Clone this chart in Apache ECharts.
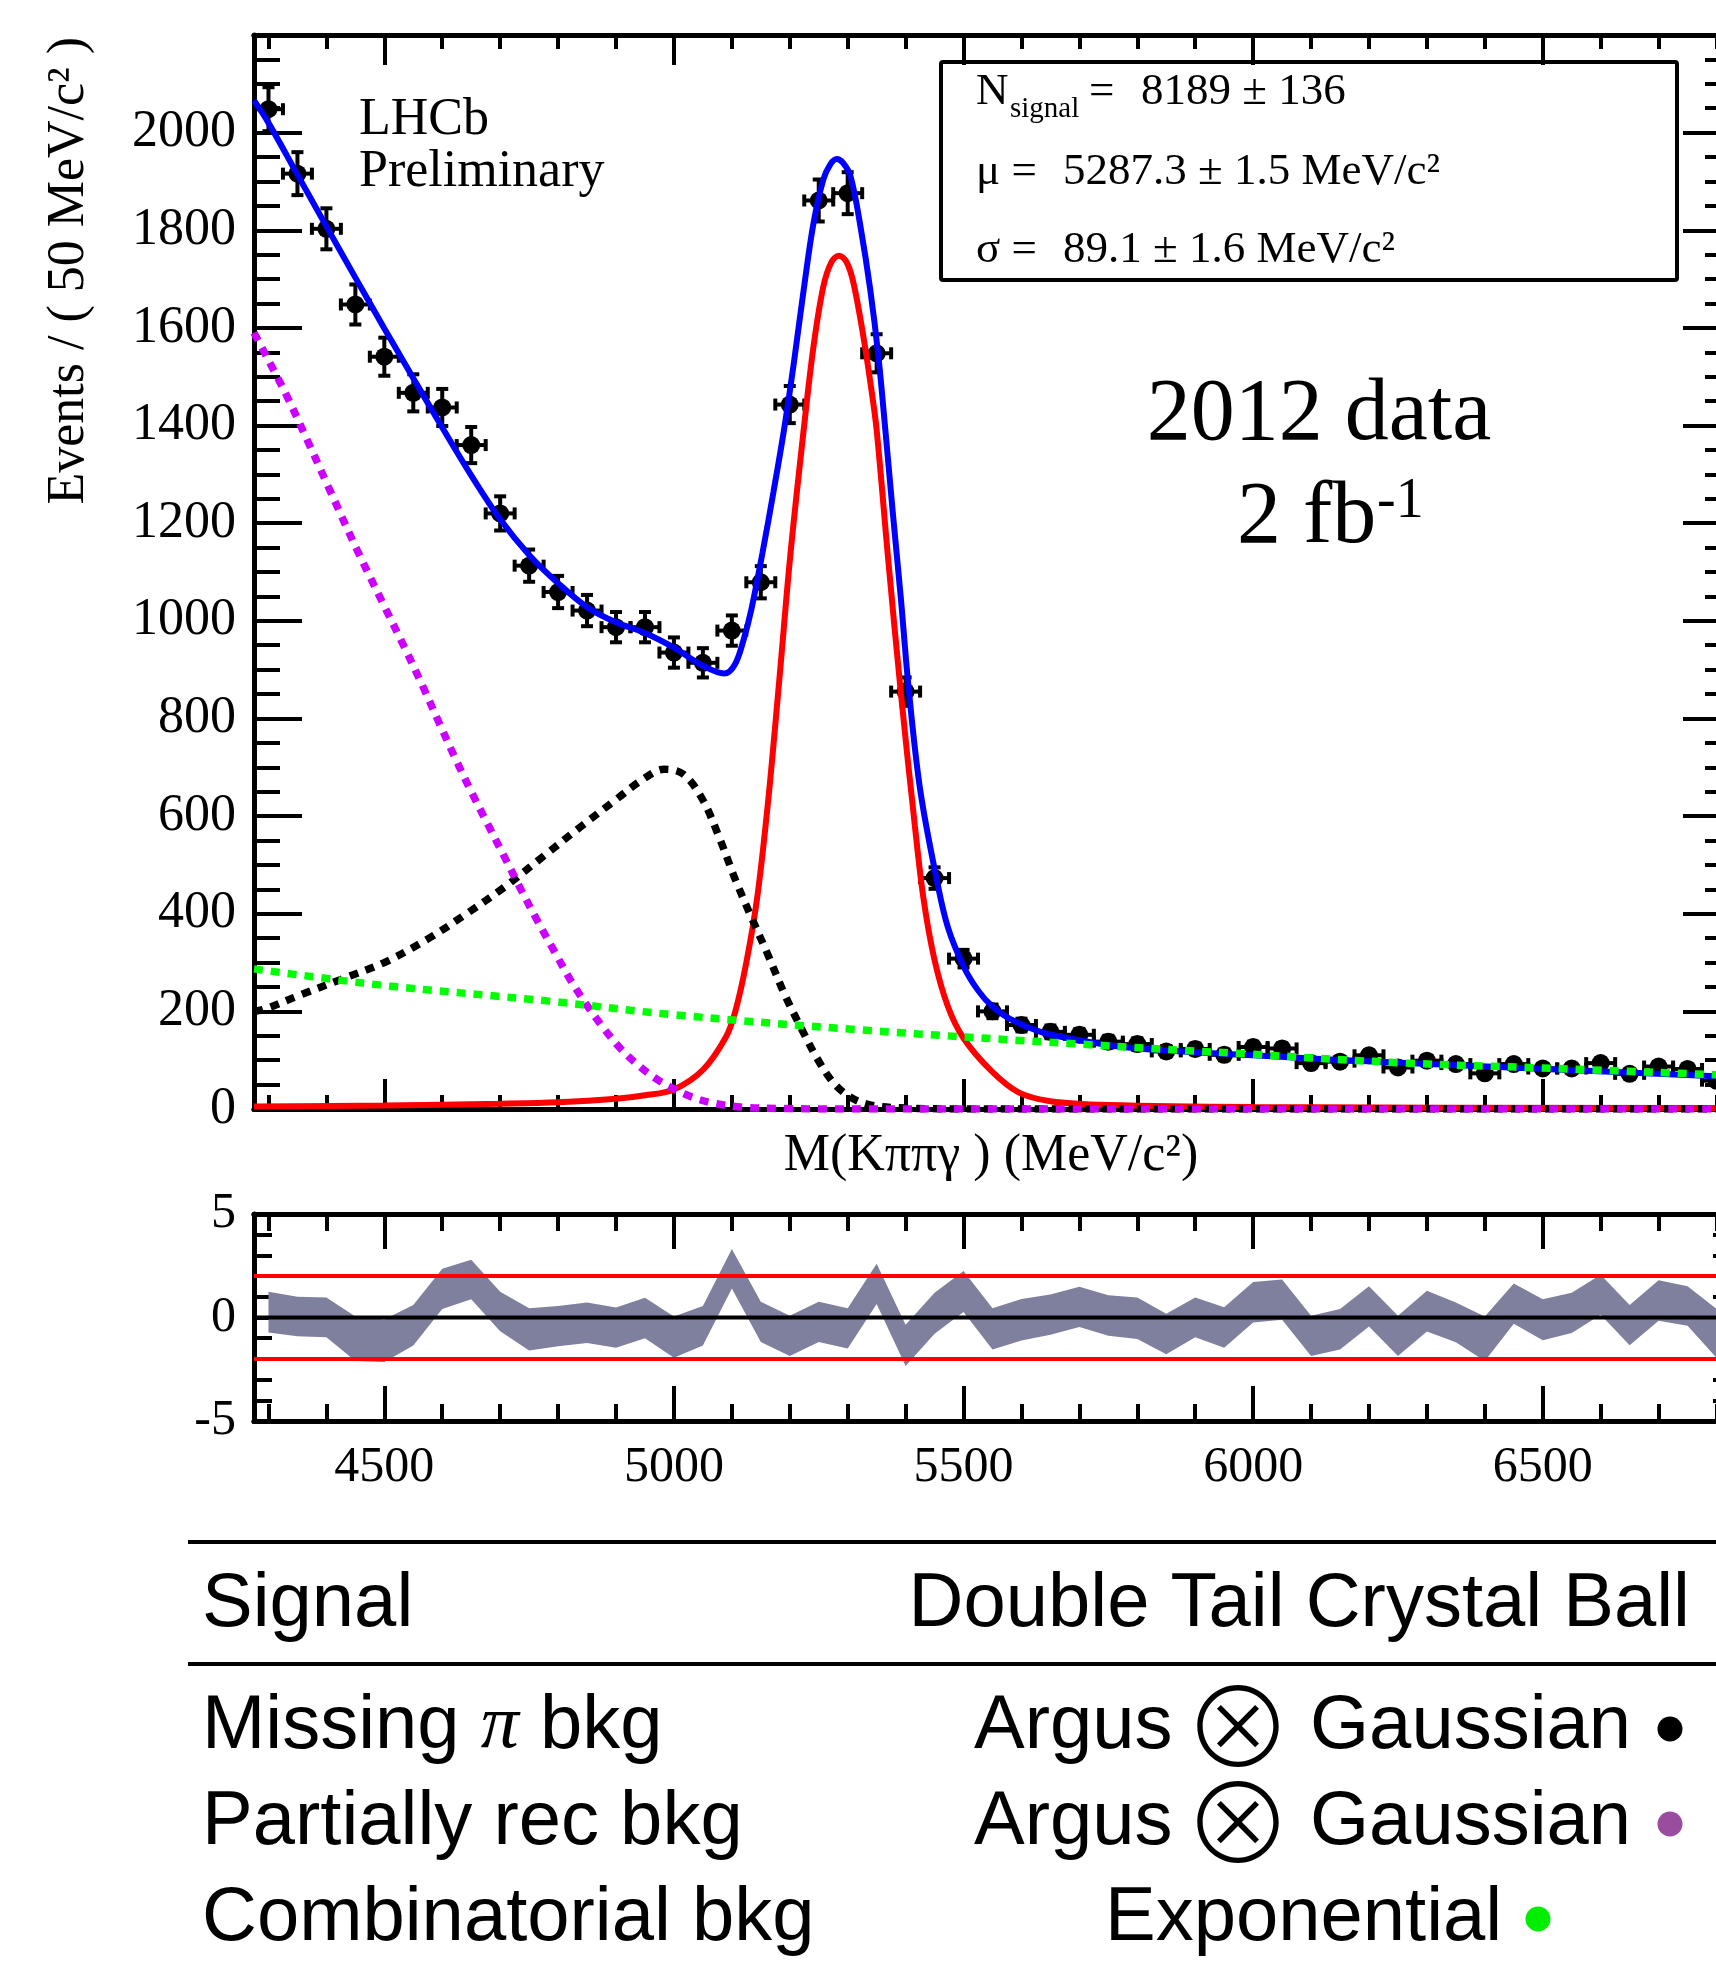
<!DOCTYPE html>
<html>
<head>
<meta charset="utf-8">
<script src="https://cdn.jsdelivr.net/npm/echarts@6.0.0/dist/echarts.min.js"></script>
<style>
  html, body { margin: 0; padding: 0; background: #fff; }
  #chart { width: 1716px; height: 1962px; }
</style>
</head>
<body>
<div id="chart"></div>
<script>
// mass range of the fit (MeV/c^2), 50 MeV bins
const X_MIN = 4275
const X_MAX = 6825
const binHalfWidth = 25

const binCenters = [
  4300, 4350, 4400, 4450, 4500, 4550, 4600, 4650, 4700, 4750,
  4800, 4850, 4900, 4950, 5000, 5050, 5100, 5150, 5200, 5250,
  5300, 5350, 5400, 5450, 5500, 5550, 5600, 5650, 5700, 5750,
  5800, 5850, 5900, 5950, 6000, 6050, 6100, 6150, 6200, 6250,
  6300, 6350, 6400, 6450, 6500, 6550, 6600, 6650, 6700, 6750, 6800
]
const eventCounts = [
  2048, 1916, 1803, 1648, 1541, 1467, 1437, 1360, 1220, 1113,
  1059, 1021, 987, 987, 935, 914, 980, 1079, 1443, 1861,
  1876, 1548, 855, 473, 308, 200, 172, 158, 152, 138,
  133, 118, 123, 111, 127, 124, 94, 97, 110, 85,
  99, 92, 73, 92, 83, 83, 94, 72, 87, 82, 58
]
const eventErrors = [
  45, 44, 42, 41, 39, 38, 38, 37, 35, 33,
  33, 32, 31, 31, 31, 30, 31, 33, 38, 43,
  43, 39, 29, 22, 18, 14, 13, 13, 12, 12,
  12, 11, 11, 11, 11, 11, 10, 10, 10, 9,
  10, 10, 9, 10, 9, 9, 10, 8, 9, 9, 8
]

// fit components, [mass, events]
const totalFit = [
  [4275, 2066], [4300, 2020], [4350, 1914], [4400, 1808], [4450, 1703], [4500, 1599],
  [4550, 1497], [4600, 1396], [4650, 1298], [4700, 1208], [4750, 1135], [4800, 1077],
  [4850, 1028], [4900, 997], [4950, 975], [5000, 945], [5050, 908], [5087, 892],
  [5105, 910], [5120, 960], [5134, 1025], [5153, 1140], [5172, 1265], [5190, 1391],
  [5207, 1528], [5224, 1678], [5241, 1815], [5258, 1904], [5270, 1935], [5281, 1946],
  [5292, 1938], [5305, 1910], [5322, 1808], [5339, 1678], [5353, 1542], [5365, 1391],
  [5378, 1220], [5392, 1043], [5405, 865], [5425, 655], [5454, 468], [5473, 372],
  [5501, 290], [5525, 243], [5548, 212], [5581, 184], [5633, 158], [5699, 141],
  [5793, 125], [6000, 110], [6264, 94], [6825, 66]
]
const signalFit = [
  [4275, 5], [4500, 7], [4700, 11], [4800, 14], [4900, 21], [4950, 28], [5000, 40],
  [5050, 80], [5090, 148], [5106, 200], [5125, 300], [5144, 435], [5163, 635],
  [5182, 880], [5201, 1135], [5224, 1391], [5241, 1562], [5258, 1685], [5272, 1735],
  [5285, 1748], [5298, 1735], [5310, 1692], [5327, 1583], [5341, 1473], [5350, 1391],
  [5370, 1125], [5392, 850], [5416, 580], [5431, 430], [5450, 305], [5473, 210],
  [5500, 145], [5548, 78], [5595, 34], [5650, 16], [5750, 8], [6000, 4], [6825, 2]
]
const missingPiBkg = [
  [4275, 200], [4292, 204], [4358, 235], [4424, 265], [4500, 300], [4576, 349],
  [4642, 400], [4708, 455], [4775, 518], [4841, 580], [4898, 632], [4945, 674],
  [4983, 696], [5016, 686], [5049, 635], [5078, 557], [5106, 470], [5134, 392],
  [5163, 314], [5191, 235], [5220, 165], [5248, 102], [5276, 53], [5305, 24],
  [5340, 8], [5400, 2], [5500, 0], [6825, 0]
]
const partialRecBkg = [
  [4275, 1590], [4329, 1467], [4367, 1370], [4405, 1270], [4453, 1145],
  [4500, 1030], [4533, 950], [4566, 867], [4595, 790], [4623, 717], [4651, 648],
  [4680, 580], [4708, 515], [4737, 447], [4765, 384], [4794, 322], [4822, 263],
  [4850, 212], [4879, 165], [4907, 125], [4936, 92], [4964, 66], [4992, 46],
  [5030, 25], [5068, 12], [5116, 4], [5185, 1], [5300, 0], [6825, 0]
]
const combinatorialBkg = [
  [4275, 287], [4500, 253], [4784, 221], [5000, 193], [5322, 162], [5699, 133],
  [6000, 112], [6264, 94], [6500, 84], [6825, 69]
]

// residual band per bin
const pullUpper = [
  1.24, 1.0, 0.97, 0.05, -0.1, 0.6, 2.36, 2.79, 1.24, 0.45,
  0.56, 0.73, 0.48, 0.96, 0.05, 0.56, 3.31, 0.76, 0.08, 0.76,
  0.45, 2.6, -0.35, 1.19, 2.25, 0.45, 0.89, 1.11, 1.48, 1.08,
  0.97, 0.18, 0.97, 0.49, 1.72, 1.83, 0.08, 0.41, 1.51, 0.08,
  1.29, 0.73, 0.05, 1.64, 0.88, 1.19, 2.07, 0.6, 1.8, 1.51, 0.42
]
const pullLower = [
  -0.72, -0.91, -0.96, -2.1, -2.15, -1.35, 0.41, 0.88, -0.67, -1.59,
  -1.39, -1.23, -1.46, -1.0, -1.94, -1.35, 1.4, -1.18, -1.86, -1.18,
  -1.5, 0.65, -2.34, -0.78, 0.27, -1.54, -1.11, -0.83, -0.46, -0.88,
  -1.04, -1.77, -0.96, -1.46, -0.24, -0.11, -1.86, -1.54, -0.43, -1.86,
  -0.68, -1.19, -2.1, -0.3, -1.1, -0.75, 0.13, -1.34, -0.16, -0.4, -1.95
]
const pullLimits = [-2, 2]

const massTicksMajor = [4500, 5000, 5500, 6000, 6500]
const massTicksMinor = [
  4300, 4400, 4600, 4700, 4800, 4900, 5100, 5200, 5300, 5400,
  5600, 5700, 5800, 5900, 6100, 6200, 6300, 6400, 6600, 6700, 6800
]

const SERIF = '"Liberation Serif", "Times New Roman", serif'
const SANS = '"Liberation Sans", Arial, sans-serif'

const massAxis = (gridIndex, position, ticks, len, label) => ({
  type: "value",
  gridIndex,
  position,
  min: X_MIN,
  max: X_MAX,
  axisLine: { show: true, onZero: false, lineStyle: { color: "#000", width: 5 } },
  axisTick: { show: true, inside: true, length: len, customValues: ticks, lineStyle: { color: "#000", width: 4 } },
  axisLabel: label
    ? {
        show: true, customValues: massTicksMajor, margin: 22, color: "#000",
        fontFamily: SERIF, fontSize: 50, lineHeight: 50, formatter: v => String(v)
      }
    : { show: false },
  splitLine: { show: false }
})

const countAxis = (gridIndex, position, opts, showLabel) => ({
  type: "value",
  gridIndex,
  position,
  min: opts.min,
  max: opts.max,
  interval: opts.interval,
  axisLine: { show: true, onZero: false, lineStyle: { color: "#000", width: 5 } },
  axisTick: { show: true, inside: true, length: opts.major, lineStyle: { color: "#000", width: 4 } },
  minorTick: { show: true, splitNumber: opts.split, length: opts.minor, lineStyle: { color: "#000", width: 4 } },
  axisLabel: showLabel
    ? {
        show: true, margin: 18, color: "#000", fontFamily: SERIF, fontSize: opts.font,
        padding: [6, 0, 0, 0], formatter: v => (v <= opts.lastLabel ? String(v) : "")
      }
    : { show: false },
  splitLine: { show: false },
  minorSplitLine: { show: false }
})

const eventsScale = { min: 0, max: 2200, interval: 200, major: 48, minor: 26, split: 4, font: 52, lastLabel: 2000 }
const pullScale = { min: -5, max: 5, interval: 5, major: 35, minor: 18, split: 5, font: 50, lastLabel: 5 }

function renderDataPoint(params, api) {
  const x = api.value(0)
  const y = api.value(1)
  const err = api.value(2)
  const c = api.coord([x, y])
  const yTop = api.coord([x, y + err])[1]
  const yBot = api.coord([x, y - err])[1]
  const xL = api.coord([x - binHalfWidth, y])[0]
  const xR = api.coord([x + binHalfWidth, y])[0]
  const cap = 6
  const st = { stroke: "#000", lineWidth: 4 }
  const seg = (x1, y1, x2, y2) => ({ type: "line", shape: { x1, y1, x2, y2 }, style: st })
  return {
    type: "group",
    children: [
      seg(c[0], yTop, c[0], yBot),
      seg(xL, c[1], xR, c[1]),
      seg(c[0] - cap, yTop, c[0] + cap, yTop),
      seg(c[0] - cap, yBot, c[0] + cap, yBot),
      seg(xL, c[1] - cap, xL, c[1] + cap),
      seg(xR, c[1] - cap, xR, c[1] + cap),
      { type: "circle", shape: { cx: c[0], cy: c[1], r: 9 }, style: { fill: "#000" } }
    ]
  }
}

function renderPullBand(params, api) {
  if (params.dataIndex !== 0) return null
  const up = []
  const lo = []
  for (let i = 0; i < params.dataInsideLength; i++) {
    up.push(api.coord([api.value(0, i), api.value(1, i)]))
    lo.push(api.coord([api.value(0, i), api.value(2, i)]))
  }
  return { type: "polygon", shape: { points: up.concat(lo.reverse()) }, style: { fill: "#7f7f9e" } }
}

const fitLine = (name, data, color, dotted) => ({
  name,
  type: "line",
  xAxisIndex: 0,
  yAxisIndex: 0,
  data,
  smooth: 0.35,
  showSymbol: false,
  silent: true,
  lineStyle: dotted
    ? { color, width: 7.5, type: [9, 8], cap: "butt" }
    : { color, width: 6, type: "solid" }
})

const refLine = (level, color) => ({
  type: "line",
  xAxisIndex: 4,
  yAxisIndex: 2,
  data: [[X_MIN, level], [X_MAX, level]],
  showSymbol: false,
  silent: true,
  lineStyle: { color, width: 4 }
})

const txt = (text, x, y, font, align, extra) => ({
  type: "text",
  x,
  y,
  silent: true,
  style: Object.assign({ text, font, fill: "#000", align, textAlign: align, verticalAlign: "middle", textVerticalAlign: "middle" }, extra || {})
})

const OTIMES_FONT = '300 110px "Noto Sans CJK JP", "DejaVu Sans"'
const TABLE_FONT = "76px " + SANS

const graphics = [
  // axis titles
  Object.assign(txt("Events / ( 50 MeV/c² )", 69, 37, "52px " + SERIF, "right"), { rotation: Math.PI / 2 }),
  txt("M(Kππγ ) (MeV/c²)", 991, 1156, "52px " + SERIF, "center"),
  txt("LHCb", 359, 120, "52px " + SERIF, "left"),
  txt("Preliminary", 359, 172, "52px " + SERIF, "left"),
  // fit result box
  { type: "rect", silent: true, shape: { x: 941, y: 62, width: 736, height: 218, r: 2 }, style: { fill: "rgba(0,0,0,0)", stroke: "#000", lineWidth: 4 } },
  txt("N", 976, 92, "45px " + SERIF, "left"),
  txt("signal", 1010, 109, "29px " + SERIF, "left"),
  txt("=", 1089, 92, "45px " + SERIF, "left"),
  txt("8189 ± 136", 1141, 92, "45px " + SERIF, "left"),
  txt("μ =", 976, 172, "45px " + SERIF, "left"),
  txt("5287.3 ± 1.5 MeV/c²", 1063, 172, "45px " + SERIF, "left"),
  txt("σ =", 976, 250, "45px " + SERIF, "left"),
  txt("89.1 ± 1.6 MeV/c²", 1063, 250, "45px " + SERIF, "left"),
  txt("2012 data", 1319, 416, "88px " + SERIF, "center"),
  txt("2 fb", 1237, 519, "88px " + SERIF, "left"),
  txt("-1", 1377, 502, "56px " + SERIF, "left"),
  // table below the plot
  { type: "line", silent: true, shape: { x1: 188, y1: 1542, x2: 1716, y2: 1542 }, style: { stroke: "#000", lineWidth: 4 } },
  { type: "line", silent: true, shape: { x1: 188, y1: 1664, x2: 1716, y2: 1664 }, style: { stroke: "#000", lineWidth: 4 } },
  txt("Signal", 202, 1605, TABLE_FONT, "left"),
  txt("Double Tail Crystal Ball", 1690, 1605, TABLE_FONT, "right"),
  txt("{a|Missing }{p|π}{a| bkg}", 202, 1727, TABLE_FONT, "left", {
    rich: {
      a: { font: TABLE_FONT, fill: "#000" },
      p: { font: "italic 76px " + SERIF, fill: "#000" }
    }
  }),
  txt("Partially rec bkg", 202, 1823, TABLE_FONT, "left"),
  txt("Combinatorial bkg", 202, 1919, TABLE_FONT, "left"),
  txt("Argus", 974, 1727, TABLE_FONT, "left"),
  txt("⊗", 1238, 1726, OTIMES_FONT, "center"),
  txt("Gaussian", 1310, 1727, TABLE_FONT, "left"),
  txt("Argus", 974, 1823, TABLE_FONT, "left"),
  txt("⊗", 1238, 1822, OTIMES_FONT, "center"),
  txt("Gaussian", 1310, 1823, TABLE_FONT, "left"),
  txt("Exponential", 1105, 1919, TABLE_FONT, "left"),
  { type: "circle", silent: true, shape: { cx: 1670, cy: 1729, r: 12.5 }, style: { fill: "#000" } },
  { type: "circle", silent: true, shape: { cx: 1670, cy: 1824, r: 12.5 }, style: { fill: "#9a4c9e" } },
  { type: "circle", silent: true, shape: { cx: 1538, cy: 1919, r: 12.5 }, style: { fill: "#00ee00" } }
]

const chart = echarts.init(document.getElementById("chart"), null, { renderer: "canvas", width: 1716, height: 1962 })

chart.setOption({
  animation: false,
  backgroundColor: "#fff",
  grid: [
    { left: 254, top: 35, width: 1477, height: 1074, outerBoundsMode: "none" },
    { left: 254, top: 1214, width: 1477, height: 207, outerBoundsMode: "none" }
  ],
  xAxis: [
    massAxis(0, "bottom", massTicksMajor, 30, false),
    massAxis(0, "bottom", massTicksMinor, 14, false),
    massAxis(0, "top", massTicksMajor, 30, false),
    massAxis(0, "top", massTicksMinor, 14, false),
    massAxis(1, "bottom", massTicksMajor, 35, true),
    massAxis(1, "bottom", massTicksMinor, 17, false),
    massAxis(1, "top", massTicksMajor, 35, false),
    massAxis(1, "top", massTicksMinor, 17, false)
  ],
  yAxis: [
    countAxis(0, "left", eventsScale, true),
    countAxis(0, "right", eventsScale, false),
    countAxis(1, "left", pullScale, true),
    countAxis(1, "right", pullScale, false)
  ],
  series: [
    {
      name: "data",
      type: "custom",
      xAxisIndex: 0,
      yAxisIndex: 0,
      silent: true,
      encode: { x: 0, y: 1 },
      data: binCenters.map((x, i) => [x, eventCounts[i], eventErrors[i]]),
      renderItem: renderDataPoint
    },
    fitLine("total", totalFit, "#0000ff", false),
    fitLine("signal", signalFit, "#ff0000", false),
    fitLine("missing pi", missingPiBkg, "#000000", true),
    fitLine("partially reconstructed", partialRecBkg, "#cc00ff", true),
    fitLine("combinatorial", combinatorialBkg, "#00ff00", true),
    {
      name: "pull",
      type: "custom",
      xAxisIndex: 4,
      yAxisIndex: 2,
      silent: true,
      encode: { x: 0, y: [1, 2] },
      data: binCenters.map((x, i) => [x, pullUpper[i], pullLower[i]]),
      renderItem: renderPullBand
    },
    refLine(0, "#000"),
    ...pullLimits.map(l => refLine(l, "#ff0000"))
  ],
  graphic: graphics
})
</script>
</body>
</html>
